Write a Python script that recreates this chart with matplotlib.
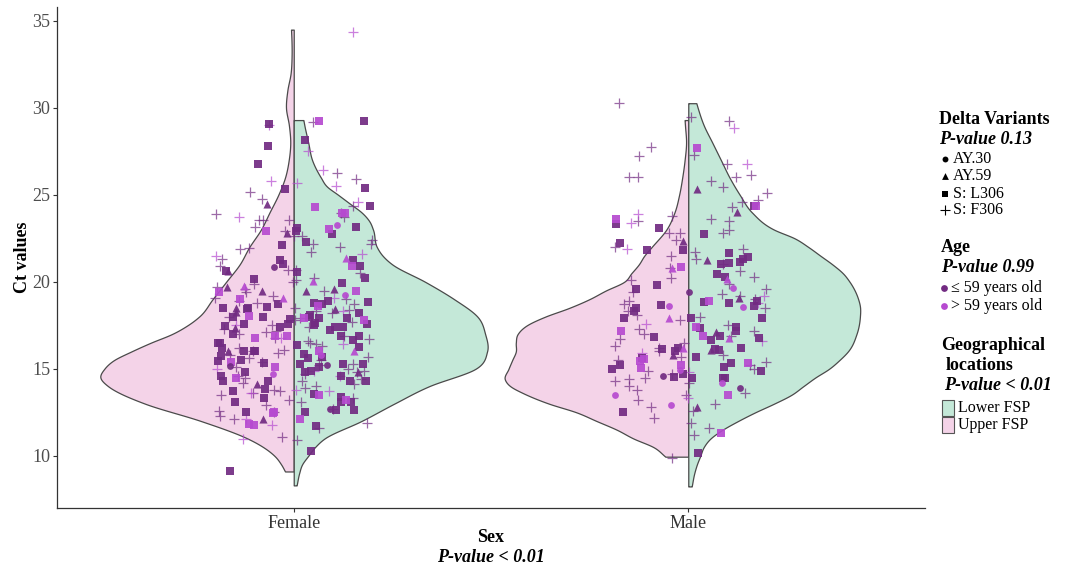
import numpy as np
import matplotlib
matplotlib.use("Agg")
import matplotlib.pyplot as plt
from matplotlib.patches import Rectangle

# ---------------- data ----------------
sexes = ["Female", "Male"]
y_ticks = [10, 15, 20, 25, 30, 35]

# violin half-profiles (Ct level, relative half-width)
fu_y = [9.1, 9.5, 10, 11, 12, 13, 14, 14.5, 15, 15.5, 16, 16.5, 17, 17.5, 18, 19, 20, 21, 22, 23, 24, 25, 26, 27, 28, 29, 30, 31, 32, 33, 34, 34.5]
fu_w = [.045, .065, .10, .24, .48, .77, .96, 1.0, .98, .93, .84, .74, .63, .55, .49, .42, .35, .28, .23, .17, .125, .08, .045, .026, .018, .025, .04, .033, .016, .011, .012, .014]
fl_y = [8.3, 9, 9.5, 10, 10.5, 11, 12, 13, 14, 15, 16, 17, 18, 19, 20, 21, 21.5, 22, 23, 23.5, 24, 24.5, 25, 25.5, 26, 27, 28, 29, 29.3]
fl_w = [.015, .028, .043, .075, .11, .16, .35, .52, .70, .94, 1.0, .99, .95, .83, .68, .51, .46, .43, .41, .39, .35, .29, .23, .17, .14, .095, .075, .055, .05]
mu_y = [9.95, 10.5, 11, 11.5, 12, 12.5, 13, 13.6, 14, 14.4, 15, 15.5, 16, 16.5, 17, 17.5, 18, 18.5, 19, 19.5, 20, 20.5, 21, 21.5, 22, 23, 24, 25, 26, 27, 28, 29, 29.3]
mu_w = [.125, .19, .30, .39, .50, .61, .76, .90, .97, 1.0, .98, .96, .94, .94, .93, .88, .78, .65, .54, .45, .35, .31, .27, .24, .20, .12, .075, .05, .033, .02, .012, .018, .02]
ml_y = [8.24, 9, 9.5, 10, 10.5, 11, 11.5, 12, 12.5, 13, 13.5, 14, 14.5, 15, 15.5, 16, 17, 18, 18.6, 19, 20, 20.5, 21, 21.5, 22, 22.5, 23, 24, 25, 26, 27, 28, 29, 30, 30.27]
ml_w = [.02, .035, .05, .07, .09, .13, .20, .29, .39, .50, .60, .67, .74, .82, .88, .93, .98, 1.0, 1.0, .99, .94, .90, .84, .77, .70, .62, .50, .37, .30, .24, .19, .14, .09, .055, .047]

# Female points (Ct values) by variant and age
f_sq_dark = [29.06, 29.25, 28.16, 27.8, 26.78, 25.42, 25.34, 24.37, 22.93, 23.12, 23.18, 22.74, 22.28, 22.09,
             21.26, 21.26, 20.92, 20.65, 21.0, 20.56, 20.21, 20.15, 19.92, 18.72, 18.9, 18.77, 18.83, 18.58, 18.75,
             18.43, 18.5, 18.5, 18.2, 17.95, 18.0, 18.1, 17.87, 18.0, 17.9, 18.0, 17.59, 17.59, 17.5, 17.65, 17.55,
             17.47, 17.4, 17.4, 17.4, 17.24, 17.0, 16.9, 16.9, 16.63, 16.38, 16.25, 16.2, 16.5, 16.5, 16.0, 16.0, 16.0,
             15.85, 15.75, 15.6, 15.5, 15.7, 15.45, 15.33, 15.3, 15.3, 15.3, 15.1, 14.88, 14.8, 14.8, 14.6, 14.6, 14.3,
             14.3, 14.3, 14.3, 13.83, 13.7, 13.57, 13.4, 13.35, 13.12, 13.1, 13.1, 12.64, 12.64, 12.5, 12.5, 11.7, 10.3, 9.1]
f_sq_light = [29.25, 24.33, 23.98, 23.98, 22.9, 23.02, 20.92, 19.5, 19.0, 19.44, 18.6, 18.05, 17.9, 17.8, 16.9, 16.8,
              16.9, 16.05, 15.4, 15.1, 14.46, 13.5, 13.18, 12.5, 12.47, 12.13, 11.82, 11.78]
f_tri_dark = [24.46, 22.78, 20.65, 19.58, 19.48, 19.5, 19.7, 18.43, 18.5, 18.24, 17.34, 16.0, 14.8, 14.14, 12.1]
f_tri_light = [21.4, 20.07, 19.77, 19.1, 16.0]
f_circ_dark = [20.88, 15.2, 15.17, 12.7]
f_circ_light = [23.24, 19.25, 15.8, 14.7]
f_plus_dark = [29.2, 25.9, 26.28, 25.15, 24.77, 24.37, 23.9, 23.7, 23.96, 23.56, 23.56, 23.56, 23.18, 22.9, 22.64,
               22.64, 22.4, 22.0, 22.2, 22.2, 21.95, 21.9, 21.7, 21.3, 20.9, 20.7, 20.69, 20.5, 20.2, 20.1, 20.0, 19.9,
               19.7, 19.6, 19.5, 19.4, 19.2, 19.1, 19.0, 18.9, 18.8, 18.7, 18.5, 18.4, 18.3, 18.2, 18.0, 17.9, 17.8,
               17.7, 17.5, 17.4, 17.3, 17.2, 17.1, 17.0, 16.9, 16.8, 16.7, 16.6, 16.5, 16.4, 16.3, 16.2, 16.1, 16.0,
               15.9, 15.8, 15.7, 15.6, 15.5, 15.4, 15.3, 15.2, 15.1, 15.0, 14.9, 14.8, 14.7, 14.6, 14.5, 14.4, 14.3,
               14.2, 14.1, 14.0, 13.9, 13.8, 13.7, 13.6, 13.5, 13.3, 13.2, 13.1, 12.9, 12.7, 12.6, 12.5, 12.3, 12.1,
               11.9, 11.6, 11.1, 10.9]
f_plus_light = [34.35, 29.0, 27.53, 26.44, 25.77, 25.67, 25.5, 24.6, 23.7, 21.6, 21.5, 19.1, 18.3, 17.5, 16.8, 16.4,
                15.0, 14.9, 14.6, 13.8, 13.7, 13.6, 12.1, 11.8, 10.95]

# Male points
m_sq_dark = [24.37, 23.3, 23.12, 22.76, 22.26, 21.82, 21.82, 21.42, 21.68, 21.17, 21.1, 21.05, 21.3, 20.44, 20.3, 19.8,
             19.6, 18.81, 18.5, 18.6, 18.86, 18.66, 18.9, 18.33, 17.95, 17.95, 17.95, 17.34, 17.15, 16.82, 17.4, 16.91,
             16.68, 16.8, 16.22, 16.0, 16.07, 16.2, 16.15, 16.15, 15.6, 15.7, 15.35, 15.2, 15.1, 15.0, 14.9, 14.7,
             14.55, 14.5, 14.5, 14.5, 12.54, 10.15]
m_sq_light = [27.68, 24.38, 23.62, 20.88, 18.9, 17.4, 17.15, 16.9, 15.56, 15.45, 15.35, 15.07, 15.2, 13.5, 11.3]
m_tri_dark = [25.33, 24.0, 22.32, 21.26, 19.06, 17.1, 16.1, 15.78, 12.83]
m_tri_light = [20.8, 20.17, 17.9, 16.2, 16.8]
m_circ_dark = [19.44, 14.6, 13.9]
m_circ_light = [18.6, 18.55, 19.65, 14.92, 14.2, 13.5, 12.9]
m_plus_dark = [30.27, 29.47, 29.27, 27.24, 27.74, 27.3, 26.78, 26.15, 26.0, 26.0, 26.0, 25.8, 25.44, 25.13, 24.7, 24.6,
               24.3, 23.8, 23.6, 23.5, 23.5, 22.99, 22.8, 22.8, 22.8, 22.4, 22.0, 21.9, 21.7, 21.5, 21.3, 21.0, 20.8,
               20.6, 20.3, 20.2, 20.1, 19.9, 19.6, 19.4, 19.3, 19.2, 19.0, 18.9, 18.7, 18.5, 18.3, 18.1, 18.0, 17.8,
               17.5, 17.3, 17.2, 17.0, 16.9, 16.7, 16.5, 16.3, 16.2, 16.0, 15.8, 15.7, 15.5, 15.4, 15.2, 15.0, 14.9,
               14.7, 14.5, 14.4, 14.3, 14.2, 14.0, 13.8, 13.6, 13.5, 13.2, 13.0, 12.8, 12.6, 12.2, 11.9, 11.6, 11.2, 9.85]
m_plus_light = [28.87, 26.78, 23.9, 23.4, 21.9, 19.2, 18.8, 17.6, 16.6, 15.9, 14.8, 13.3]

# ---------------- style ----------------
SERIF = ["Liberation Serif", "DejaVu Serif"]
plt.rcParams["font.family"] = SERIF
PINK = "#F4D3E8"
GREEN = "#C4E8D8"
EDGE = "#4a4a4a"
DARK = "#722B82"
LIGHT = "#B64AD0"

fig = plt.figure(figsize=(10.70, 5.68), dpi=100)
W, H = 1070, 568
ax = fig.add_axes([57 / W, (H - 508) / H, (925 - 57) / W, (508 - 7) / H])
ax.set_xlim(0.4, 2.6)
ax.set_ylim(7.0, 35.8)


def smooth_profile(y, w, n=500):
    y = np.asarray(y, float)
    w = np.asarray(w, float)
    m = np.gradient(w, y)
    yy = np.linspace(y[0], y[-1], n)
    idx = np.clip(np.searchsorted(y, yy, side="right") - 1, 0, len(y) - 2)
    h = y[idx + 1] - y[idx]
    t = (yy - y[idx]) / h
    h00 = 2 * t**3 - 3 * t**2 + 1
    h10 = t**3 - 2 * t**2 + t
    h01 = -2 * t**3 + 3 * t**2
    h11 = t**3 - t**2
    ww = h00 * w[idx] + h10 * h * m[idx] + h01 * w[idx + 1] + h11 * h * m[idx + 1]
    return yy, np.clip(ww, 0.004, None)


violins = [
    (1, fu_y, fu_w, -0.49, PINK),
    (1, fl_y, fl_w, 0.49, GREEN),
    (2, mu_y, mu_w, -0.465, PINK),
    (2, ml_y, ml_w, 0.435, GREEN),
]
for center, vy, vw, maxw, col in violins:
    yy, ww = smooth_profile(vy, vw)
    ax.fill_betweenx(yy, center, center + ww * maxw, facecolor=col,
                     edgecolor=EDGE, linewidth=0.9, zorder=1)

rng = np.random.default_rng(7)
groups = {
    1: [(f_plus_dark, "+", DARK), (f_plus_light, "+", LIGHT),
        (f_sq_dark, "s", DARK), (f_sq_light, "s", LIGHT),
        (f_tri_dark, "^", DARK), (f_tri_light, "^", LIGHT),
        (f_circ_dark, "o", DARK), (f_circ_light, "o", LIGHT)],
    2: [(m_plus_dark, "+", DARK), (m_plus_light, "+", LIGHT),
        (m_sq_dark, "s", DARK), (m_sq_light, "s", LIGHT),
        (m_tri_dark, "^", DARK), (m_tri_light, "^", LIGHT),
        (m_circ_dark, "o", DARK), (m_circ_light, "o", LIGHT)],
}
for center, lst in groups.items():
    for vals, mk, col in lst:
        vals = np.asarray(vals)
        xs = center + rng.uniform(-0.2, 0.2, len(vals))
        if mk == "+":
            ax.scatter(xs, vals, marker="+", s=62, c=col, linewidths=0.9, alpha=0.7, zorder=3)
        elif mk == "s":
            ax.scatter(xs, vals, marker="s", s=26, c=col, linewidths=0, alpha=0.92, zorder=4)
        elif mk == "^":
            ax.scatter(xs, vals, marker="^", s=34, c=col, linewidths=0, alpha=0.92, zorder=4)
        else:
            ax.scatter(xs, vals, marker="o", s=24, c=col, linewidths=0, alpha=0.92, zorder=4)

for s in ["top", "right"]:
    ax.spines[s].set_visible(False)
for s in ["left", "bottom"]:
    ax.spines[s].set_color("#333333")
    ax.spines[s].set_linewidth(0.9)
ax.set_xticks([1, 2])
ax.set_xticklabels(sexes, fontsize=13, color="#333333")
ax.set_yticks(y_ticks)
ax.set_yticklabels([str(v) for v in y_ticks], fontsize=13, color="#4d4d4d")
ax.tick_params(axis="both", length=3, width=0.8, color="#333333", pad=2)
ax.set_ylabel("Ct values", fontsize=13, fontweight="bold", labelpad=1)

# overlay for titles & legend in pixel coordinates
ov = fig.add_axes([0, 0, 1, 1], facecolor="none")
ov.set_xlim(0, W)
ov.set_ylim(H, 0)
ov.axis("off")
ov.text(491, 538, "Sex", fontsize=13, fontweight="bold", ha="center", va="center")
ov.text(491, 557, "P-value < 0.01", fontsize=13, fontweight="bold", style="italic", ha="center", va="center")

ov.text(939, 119, "Delta Variants", fontsize=13, fontweight="bold", va="center")
ov.text(939, 139, "P-value 0.13", fontsize=13, fontweight="bold", style="italic", va="center")
variant_labels = ["AY.30", "AY.59", "S: L306", "S: F306"]
variant_markers = ["o", "^", "s", "+"]
variant_sizes = [18, 24, 16, 48]
for lab, mk, sz, yy in zip(variant_labels, variant_markers, variant_sizes, [159, 176, 194, 210]):
    ov.scatter([945], [yy], marker=mk, s=sz, c="black", linewidths=0.8 if mk == "+" else 0)
    ov.text(953, yy, lab, fontsize=11.5, va="center")

ov.text(941, 248, "Age", fontsize=13, fontweight="bold", va="center")
ov.text(941, 267, "P-value 0.99", fontsize=13, fontweight="bold", style="italic", va="center")
age_labels = ["\u2264 59 years old", "> 59 years old"]
for lab, col, yy in zip(age_labels, [DARK, LIGHT], [288, 306]):
    ov.scatter([944], [yy], marker="o", s=24, c=col, linewidths=0)
    ov.text(951, yy, lab, fontsize=11.5, va="center")

ov.text(941, 345, "Geographical", fontsize=13, fontweight="bold", va="center")
ov.text(946, 365, "locations", fontsize=13, fontweight="bold", va="center")
ov.text(944, 385, "P-value < 0.01", fontsize=13, fontweight="bold", style="italic", va="center")
geo_labels = ["Lower FSP", "Upper FSP"]
for lab, col, y0 in zip(geo_labels, [GREEN, PINK], [400, 417]):
    ov.add_patch(Rectangle((942, y0), 12, 16, facecolor=col, edgecolor="#555555", linewidth=0.8))
    ov.text(958, y0 + 8, lab, fontsize=11.5, va="center")

fig.savefig("out.png", dpi=100)
